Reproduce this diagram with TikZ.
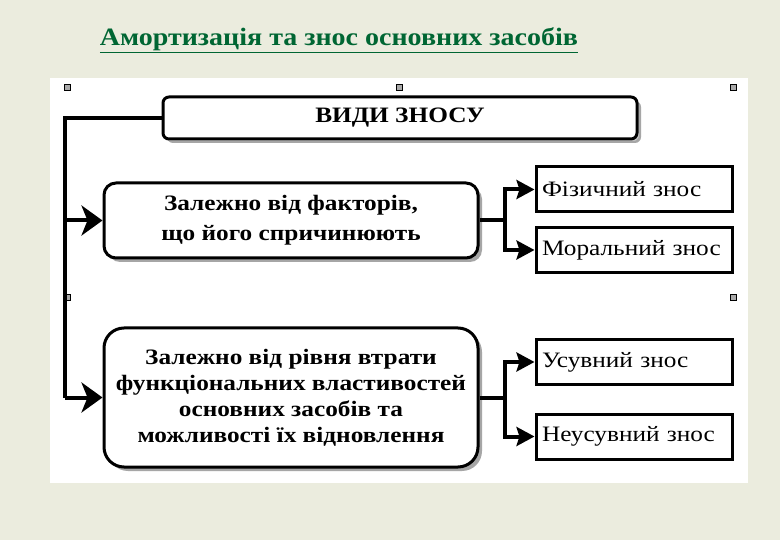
\documentclass[tikz,border=0pt]{standalone}
\usepackage{fontspec}
\setmainfont{Liberation Serif}
\newfontfamily\widefont[FakeStretch=1.15]{Liberation Serif}
\newfontfamily\titlefont[FakeStretch=1.12]{Liberation Serif}
\usepackage{tikz}
\usetikzlibrary{positioning, arrows.meta, shadows}

\definecolor{paper}{RGB}{235,236,222}
\definecolor{titlegreen}{RGB}{0,102,51}
\definecolor{handlegray}{RGB}{170,170,170}

\tikzset{
    kind/.style={draw, line width=3pt, rounded corners=#1, fill=white, inner sep=0pt,
        align=center, font=\widefont\bfseries\fontsize{22}{26}\selectfont,
        drop shadow={shadow xshift=4pt, shadow yshift=-4pt, fill=gray!70, opacity=1}},
    sort/.style={draw, line width=3pt, fill=white, inner xsep=6pt, inner ysep=0pt,
        text width=184pt, align=left, minimum height=45pt,
        font=\widefont\fontsize{22}{24}\selectfont},
    handle/.style={draw=black, fill=handlegray, line width=1pt, minimum size=6pt, inner sep=0pt},
    wire/.style={line width=4pt},
    bigtip/.style={wire, -{Stealth[length=21pt, width=30pt, inset=6pt]}},
    smalltip/.style={wire, -{Stealth[length=18pt, width=19pt, inset=3pt]}}
}

\begin{document}
\begin{tikzpicture}[x=1pt, y=1pt, node distance=60pt, on grid]
        % background and sheet
        \fill[paper] (0,0) rectangle (780,-540);
        \useasboundingbox (0,0) rectangle (780,-540);
        \fill[white] (50,-78) rectangle (748,-483);
        \node[font=\titlefont\bfseries\fontsize{25}{28}\selectfont, text=titlegreen] (title) at (339,-40)
            {\underline{Амортизація та знос основних засобів}};

        \node[handle] (h1) at (67,-88) {};
        \node[handle] (h2) at (399,-88) {};
        \node[handle] (h3) at (733,-88) {};
        \node[handle] (h4) at (67,-298) {};
        \node[handle] (h5) at (733,-298) {};

        % boxes
        \node[kind=12pt, minimum width=374pt, minimum height=75pt,
              font=\widefont\bfseries\fontsize{22}{30}\selectfont] (byfactor) at (291,-220.5)
            {Залежно від факторів,\\ що його спричинюють};
        \node[kind=20pt, minimum width=374pt, minimum height=139pt] (bylevel) [below=177pt of byfactor]
            {Залежно від рівня втрати\\ функціональних властивостей\\ основних засобів та\\ можливості їх відновлення};
        \node[kind=6pt, minimum width=474pt, minimum height=42pt,
              drop shadow={shadow xshift=2pt, shadow yshift=-2pt, fill=gray!40, opacity=1}]
            (head) [above right=102.5pt and 109pt of byfactor] {ВИДИ ЗНОСУ};

        \node[sort] (fiz) [above right=31pt and 343pt of byfactor] {Фізичний знос};
        \node[sort] (moral) [below=60.5pt of fiz] {Моральний знос};
        \node[sort] (usuv) [above right=35.5pt and 343pt of bylevel] {Усувний знос};
        \node[sort] (neusuv) [below=74.5pt of usuv] {Неусувний знос};

        % connectors
        \coordinate (bus) at (65,0);
        \coordinate (split) at (505,0);
        \draw[wire] (head.west) -- (bus |- head.west) -- (bus |- bylevel.west);
        \draw[bigtip] (bus |- byfactor.west) -- (byfactor.west);
        \draw[bigtip] (bus |- bylevel.west) -- (bylevel.west);

        \draw[wire] (byfactor.east) -- (split |- byfactor.east);
        \draw[smalltip] (split |- moral.west) -- (split |- fiz.west) -- (fiz.west);
        \draw[smalltip] (split |- fiz.west) -- (split |- moral.west) -- (moral.west);
        \draw[wire] (bylevel.east) -- (split |- bylevel.east);
        \draw[smalltip] (split |- neusuv.west) -- (split |- usuv.west) -- (usuv.west);
        \draw[smalltip] (split |- usuv.west) -- (split |- neusuv.west) -- (neusuv.west);
    \end{tikzpicture}
\end{document}
